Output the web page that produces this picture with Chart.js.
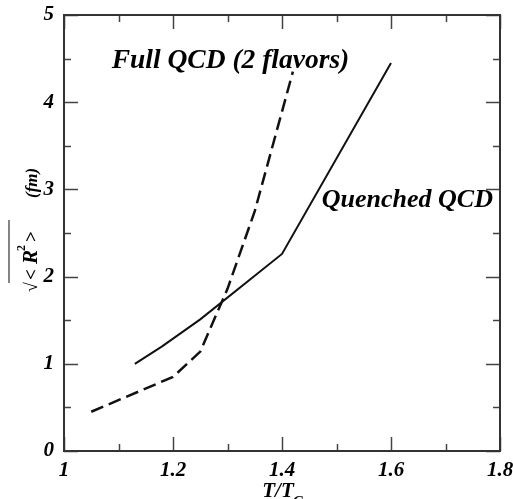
<!DOCTYPE html>
<html>
<head>
<meta charset="utf-8">
<script src="https://cdn.jsdelivr.net/npm/chart.js@4.4.1/dist/chart.umd.min.js"></script>
<style>
  html, body { margin: 0; padding: 0; background: #fff; }
  #wrap { width: 513px; height: 499px; }
</style>
</head>
<body>
<div id="wrap"><canvas id="myChart" width="513" height="499"></canvas></div>
<script>
// values
var quenchedT = [1.13, 1.18, 1.25, 1.4, 1.6];
var quenchedR = [1.0, 1.2, 1.51, 2.26, 4.45];
var fullT = [1.05, 1.2, 1.25, 1.3, 1.35, 1.42];
var fullR = [0.45, 0.85, 1.14, 1.86, 2.75, 4.35];
var xTicks = [1, 1.2, 1.4, 1.6, 1.8];
var yTicks = [0, 1, 2, 3, 4, 5];

var serif = '"Liberation Serif", "Times New Roman", serif';

function pairs(xs, ys) {
    return xs.map(function(x, i) { return { x: x, y: ys[i] }; });
}

// frame, inward ticks on all four sides, text labels
var decor = {
    id: 'decor',
    afterDraw: function(chart) {
        var ctx = chart.ctx;
        var xs = chart.scales.x, ys = chart.scales.y;
        var a = chart.chartArea;
        ctx.save();
        ctx.strokeStyle = '#444';
        ctx.lineWidth = 1.5;
        var v, p;
        for (v = 1; v <= 1.8001; v += 0.1) {
            p = Math.round(xs.getPixelForValue(v)) + 0.5;
            var major = Math.abs(v * 5 - Math.round(v * 5)) < 1e-6;
            var len = major ? 14 : 7;
            ctx.beginPath();
            ctx.moveTo(p, a.bottom); ctx.lineTo(p, a.bottom - len);
            ctx.moveTo(p, a.top); ctx.lineTo(p, a.top + len);
            ctx.stroke();
        }
        for (v = 0; v <= 5.001; v += 0.5) {
            p = Math.round(ys.getPixelForValue(v)) + 0.5;
            var len2 = (Math.abs(v - Math.round(v)) < 1e-6) ? 14 : 7;
            ctx.beginPath();
            ctx.moveTo(a.left, p); ctx.lineTo(a.left + len2, p);
            ctx.moveTo(a.right, p); ctx.lineTo(a.right - len2, p);
            ctx.stroke();
        }
        ctx.strokeStyle = '#333';
        ctx.lineWidth = 2;
        ctx.strokeRect(a.left, a.top, a.right - a.left, a.bottom - a.top);

        // curve labels
        ctx.fillStyle = '#000';
        ctx.textBaseline = 'alphabetic';
        ctx.textAlign = 'left';
        ctx.font = 'bold italic 27.5px ' + serif;
        ctx.fillText('Full QCD (2 flavors)', xs.getPixelForValue(1.0875), ys.getPixelForValue(4.39));
        ctx.font = 'bold italic 26px ' + serif;
        ctx.fillText('Quenched QCD', xs.getPixelForValue(1.473), ys.getPixelForValue(2.80));

        // x title T/T_C
        ctx.font = 'bold italic 21px ' + serif;
        var cx = (a.left + a.right) / 2;
        var w1 = ctx.measureText('T/T').width;
        ctx.fillText('T/T', cx - w1 / 2 - 4, 497);
        ctx.font = 'bold italic 15px ' + serif;
        ctx.fillText('C', cx + w1 / 2 - 5, 506);

        // y title: sqrt(<R^2>)  (fm), rotated, offsets measured from the bottom end
        ctx.translate(37, 292);
        ctx.rotate(-Math.PI / 2);
        ctx.font = '18px ' + serif;
        ctx.fillText('\u221A', 0, 0);
        ctx.font = 'bold 19px ' + serif;
        ctx.fillText('<', 12, 0);
        ctx.font = 'bold italic 21px ' + serif;
        ctx.fillText('R', 28, 0);
        ctx.font = 'bold 12px ' + serif;
        ctx.fillText('2', 41, -12);
        ctx.font = 'bold 19px ' + serif;
        ctx.fillText('>', 50, 0);
        ctx.strokeStyle = '#333';
        ctx.lineWidth = 1.2;
        ctx.beginPath();
        ctx.moveTo(9, -28); ctx.lineTo(72, -28);
        ctx.stroke();
        ctx.font = 'bold italic 17px ' + serif;
        ctx.fillText('(fm)', 94, 0);
        ctx.restore();
    }
};

document.addEventListener('DOMContentLoaded', function() {
    var ctx = document.getElementById('myChart').getContext('2d');
    var myChart = new Chart(ctx, {
        type: 'line',
        data: {
            datasets: [{
                label: 'Quenched QCD',
                data: pairs(quenchedT, quenchedR),
                borderColor: '#111',
                borderWidth: 2,
                pointRadius: 0,
                tension: 0,
                fill: false
            }, {
                label: 'Full QCD (2 flavors)',
                data: pairs(fullT, fullR),
                borderColor: '#111',
                borderWidth: 2.5,
                borderDash: [13, 6],
                pointRadius: 0,
                tension: 0,
                fill: false
            }]
        },
        options: {
            responsive: false,
            animation: false,
            layout: { padding: { top: 15, right: 13, left: 0, bottom: 0 } },
            plugins: { legend: { display: false }, tooltip: { enabled: false } },
            scales: {
                x: {
                    type: 'linear',
                    min: 1, max: 1.8,
                    afterBuildTicks: function(s) { s.ticks = xTicks.map(function(v) { return { value: v }; }); },
                    afterFit: function(s) { s.height = 48; s.paddingLeft = 0; s.paddingRight = 0; },
                    grid: { display: false, drawTicks: false },
                    border: { display: false },
                    ticks: {
                        padding: 7,
                        color: '#000',
                        maxRotation: 0,
                        font: { family: serif, size: 21, style: 'italic', weight: 'bold' },
                        callback: function(v) { return String(Math.round(v * 10) / 10); }
                    }
                },
                y: {
                    type: 'linear',
                    min: 0, max: 5,
                    afterBuildTicks: function(s) { s.ticks = yTicks.map(function(v) { return { value: v }; }); },
                    afterFit: function(s) { s.width = 64; s.paddingTop = 0; s.paddingBottom = 0; },
                    grid: { display: false, drawTicks: false },
                    border: { display: false },
                    ticks: {
                        padding: 10,
                        color: '#000',
                        font: { family: serif, size: 21, style: 'italic', weight: 'bold' },
                        callback: function(v) { return String(v); }
                    }
                }
            }
        },
        plugins: [decor]
    });
});
</script>
</body>
</html>
